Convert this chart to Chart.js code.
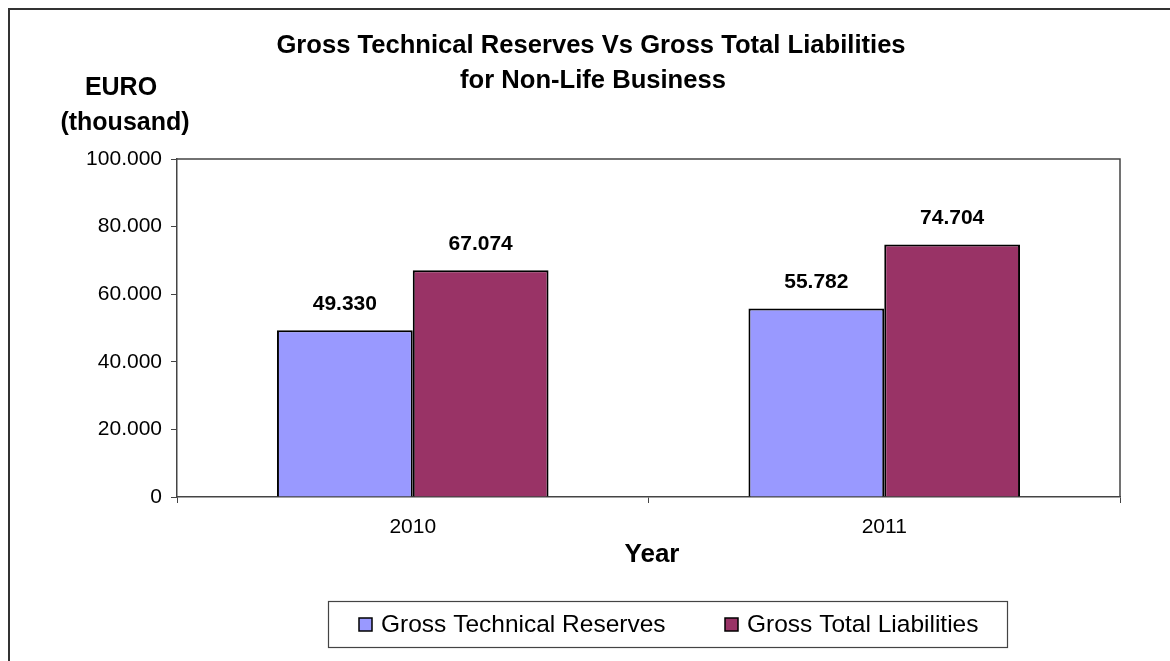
<!DOCTYPE html>
<html><head><meta charset="utf-8">
<script src="https://cdn.jsdelivr.net/npm/chart.js@4/dist/chart.umd.min.js"></script>
<style>html,body{margin:0;padding:0;background:#fff;}#wrap{width:1170px;height:661px;position:relative}</style>
</head><body><div id="wrap"><canvas id="c" width="1170" height="661"></canvas></div>
<script>
const categories = ['2010', '2011'];
const seriesNames = ['Gross Technical Reserves', 'Gross Total Liabilities'];
const reserves = [49330, 55782];
const liabilities = [67074, 74704];
const yTicks = [0, 20000, 40000, 60000, 80000, 100000];
const titleLines = ['Gross Technical Reserves Vs Gross Total Liabilities', 'for Non-Life Business'];
const yTitleLines = ['EURO', '(thousand)'];
const xTitle = 'Year';
const colors = ['#9999FF', '#993366'];

function fmt(v) { return String(Math.round(v)).replace(/\B(?=(\d{3})+(?!\d))/g, '.'); }
const FONT = '"Liberation Sans", Arial, sans-serif';

const decor = {
  id: 'decor',
  afterDraw(chart) {
    const ctx = chart.ctx, a = chart.chartArea;
    ctx.save();
    // outer border
    ctx.strokeStyle = '#333';
    ctx.lineWidth = 2;
    ctx.strokeRect(9, 9, 1180, 700);
    // plot frame top/right
    ctx.lineWidth = 1.5;
    ctx.strokeStyle = '#444';
    ctx.beginPath();
    ctx.moveTo(a.left, a.top); ctx.lineTo(a.right, a.top); ctx.lineTo(a.right, a.bottom);
    ctx.stroke();
    // titles
    ctx.fillStyle = '#000';
    ctx.textAlign = 'center'; ctx.textBaseline = 'middle';
    ctx.font = 'bold 25.6px ' + FONT;
    ctx.fillText(titleLines[0], 591, 46);
    ctx.fillText(titleLines[1], 593, 81);
    ctx.font = 'bold 25px ' + FONT;
    ctx.fillText(yTitleLines[0], 121, 88);
    ctx.fillText(yTitleLines[1], 125, 123);
    ctx.font = 'bold 26px ' + FONT;
    ctx.fillText(xTitle, 652, 555);
    // data labels
    ctx.font = 'bold 21px ' + FONT;
    chart.data.datasets.forEach((ds, di) => {
      chart.getDatasetMeta(di).data.forEach((bar, i) => {
        ctx.fillText(fmt(ds.data[i]), bar.x, bar.y - 26);
      });
    });
    // legend
    const lx = 328, ly = 601, lw = 679, lh = 46;
    ctx.lineWidth = 1.2; ctx.strokeStyle = '#444';
    ctx.strokeRect(lx + 0.5, ly + 0.5, lw, lh);
    ctx.font = '24.5px ' + FONT;
    ctx.textAlign = 'left';
    const items = [{x: 359}, {x: 725}];
    chart.data.datasets.forEach((ds, di) => {
      const x = items[di].x, cy = ly + lh / 2 + 0.5;
      ctx.fillStyle = ds.backgroundColor;
      ctx.fillRect(x, cy - 6.5, 13, 13);
      ctx.lineWidth = 1.5; ctx.strokeStyle = '#000';
      ctx.strokeRect(x, cy - 6.5, 13, 13);
      ctx.fillStyle = '#000';
      ctx.fillText(ds.label, x + 22, cy + 1);
    });
    ctx.restore();
  }
};

new Chart(document.getElementById('c'), {
  type: 'bar',
  data: {
    labels: categories,
    datasets: [
      { label: seriesNames[0], data: reserves, backgroundColor: colors[0], borderColor: '#000', borderWidth: 2 },
      { label: seriesNames[1], data: liabilities, backgroundColor: colors[1], borderColor: '#000', borderWidth: 2 }
    ]
  },
  options: {
    responsive: false,
    animation: false,
    devicePixelRatio: 1,
    layout: { padding: { left: 0, top: 159, right: 50, bottom: 0 } },
    plugins: { legend: { display: false }, title: { display: false }, tooltip: { enabled: false } },
    datasets: { bar: { categoryPercentage: 0.576, barPercentage: 1.0 } },
    scales: {
      x: {
        grid: { drawOnChartArea: false, tickLength: 6, color: '#444', offset: true },
        border: { color: '#444', width: 1.5 },
        ticks: { color: '#000', font: { family: FONT, size: 21 }, padding: 12 },
        afterFit(s) { s.height = 164; }
      },
      y: {
        min: 0, max: 100000,
        afterBuildTicks(s) { s.ticks = yTicks.map(v => ({ value: v })); },
        grid: { drawOnChartArea: false, tickLength: 6, color: '#444' },
        border: { color: '#444', width: 1.5 },
        ticks: { color: '#000', font: { family: FONT, size: 21 }, padding: 9, callback: v => fmt(v) },
        afterFit(s) { s.width = 177; }
      }
    }
  },
  plugins: [decor]
});
</script></body></html>
